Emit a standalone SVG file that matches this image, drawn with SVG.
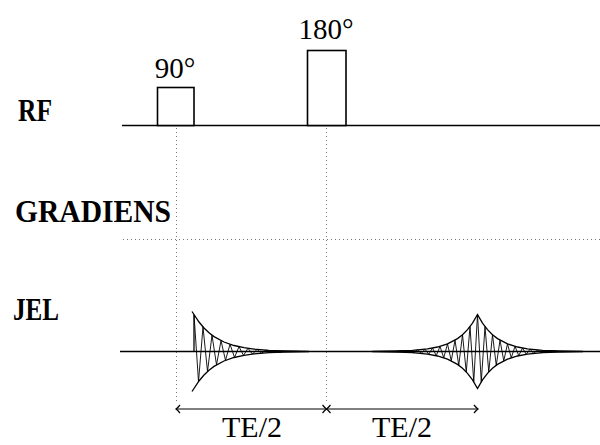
<svg xmlns="http://www.w3.org/2000/svg" width="600" height="445" viewBox="0 0 600 445">
<style>
.lbl{font-family:"Liberation Serif","Times New Roman",serif;font-weight:bold;font-size:32px;fill:#000}
.num{font-family:"Liberation Serif","Times New Roman",serif;font-size:29px;fill:#000}
.te{font-family:"Liberation Serif","Times New Roman",serif;font-size:30px;fill:#000}
.line{stroke:#000;stroke-width:1.5;fill:none}
.dot{stroke:#777;stroke-width:1;stroke-dasharray:1 3;fill:none}
.pulse{stroke:#000;stroke-width:1.6;fill:#fff}
.wave{stroke:#000;stroke-width:0.9;fill:none;stroke-linejoin:round}
.env{stroke:#000;stroke-width:1.3;fill:none}
.arr{stroke:#000;stroke-width:1.2;fill:none;marker-start:url(#ah);marker-end:url(#ah)}
</style>
<defs>
<marker id="ah" viewBox="-6 -5 8 10" markerWidth="8" markerHeight="10" refX="0" refY="0" orient="auto-start-reverse" markerUnits="userSpaceOnUse">
<path d="M-4,-4 Q-1.5,-1 0,0 Q-1.5,1 -4,4" stroke="#000" stroke-width="1.2" fill="none"/>
</marker>
</defs>

<g id="labels">
<text class="lbl" x="18" y="121" textLength="34" lengthAdjust="spacingAndGlyphs">RF</text>
<text class="lbl" x="15" y="222" textLength="156" lengthAdjust="spacingAndGlyphs">GRADIENS</text>
<text class="lbl" x="13" y="320" textLength="46" lengthAdjust="spacingAndGlyphs">JEL</text>
</g>

<g id="connectors">
<line class="dot" x1="176.5" y1="128" x2="176.5" y2="403"/>
<line class="dot" x1="326.5" y1="128" x2="326.5" y2="403"/>
<line class="dot" x1="123" y1="239.5" x2="600" y2="239.5"/>
<line class="arr" x1="176" y1="409" x2="326.5" y2="409"/>
<line class="arr" x1="326.5" y1="409" x2="478" y2="409"/>
</g>

<g id="rf">
<line class="line" x1="122" y1="125.5" x2="600" y2="125.5"/>
<rect class="pulse" x="157.5" y="87.5" width="36.5" height="38"/>
<rect class="pulse" x="307.5" y="50.5" width="38.5" height="75"/>
<text class="num" x="175" y="78" text-anchor="middle">90°</text>
<text class="num" x="326" y="39" text-anchor="middle">180°</text>
</g>

<g id="signal">
<line class="line" x1="120" y1="351.5" x2="600" y2="351.5"/>
<path id="fid-wave" class="wave" d="M194,314.5 L198.5,381.7 L203,326.9 L207.5,371.5 L212,335.2 L216.5,364.8 L221,340.7 L225.5,360.3 L230,344.3 L234.5,357.4 L239,346.7 L243.5,355.4 L248,348.3 L252.5,354.1 L257,349.4 L261.5,353.2 L266,350.1 L270.5,352.6 L275,350.6 L279.5,352.3 L284,350.9 L300,351.5"/>
<path id="fid-env" class="env" d="M192,311.5 L194,314.5 L199,322 L204,328 L209,332.8 L214,336.6 L224,342 L234,345.5 L244,347.7 L254,349.1 L269,350.3 L284,350.9 L309,351.3 M194,314.5 L194,351.5 M192,391.5 L194,388.5 L199,381 L204,375 L209,370.2 L214,366.4 L224,361 L234,357.5 L244,355.3 L254,353.9 L269,352.7 L284,352.1 L309,351.7"/>
<path id="echo-wave" class="wave" d="M385,351.5 L402.5,350.8 L406.25,352.4 L410,350.4 L413.75,352.8 L417.5,349.9 L421.25,353.4 L425,349.2 L428.75,354.3 L432.5,348 L436.25,355.7 L440,346.4 L443.75,357.8 L447.5,343.9 L451.25,360.8 L455,340.2 L458.75,365.3 L462.5,334.7 L466.25,372 L470,326.6 L473.75,381.9 L477.5,314.5 L481.25,381.9 L485,326.6 L488.75,372 L492.5,334.7 L496.25,365.3 L500,340.2 L503.75,360.8 L507.5,343.9 L511.25,357.8 L515,346.4 L518.75,355.7 L522.5,348 L526.25,354.3 L530,349.2 L533.75,353.4 L537.5,349.9 L541.25,352.8 L545,350.4 L548.75,352.4 L552.5,350.8 L570,351.5"/>
<path id="echo-env" class="env" d="M372,351.3 L397.5,350.95 L412.5,350.3 L427.5,348.8 L437.5,347 L447.5,343.9 L457.5,338.6 L462.5,334.7 L467.5,329.6 L472.5,323.1 L477.5,314.5 L482.5,323.1 L487.5,329.6 L492.5,334.7 L497.5,338.6 L507.5,343.9 L517.5,347 L527.5,348.8 L542.5,350.3 L557.5,350.95 L583,351.3 M372,351.7 L397.5,352.05 L412.5,352.7 L427.5,354.2 L437.5,356 L447.5,359.1 L457.5,364.4 L462.5,368.3 L467.5,373.4 L472.5,379.9 L477.5,388.5 L482.5,379.9 L487.5,373.4 L492.5,368.3 L497.5,364.4 L507.5,359.1 L517.5,356 L527.5,354.2 L542.5,352.7 L557.5,352.05 L583,351.7"/>
</g>

<g id="te-labels">
<text class="te" x="252" y="437" text-anchor="middle">TE/2</text>
<text class="te" x="402" y="437" text-anchor="middle">TE/2</text>
</g>
</svg>
